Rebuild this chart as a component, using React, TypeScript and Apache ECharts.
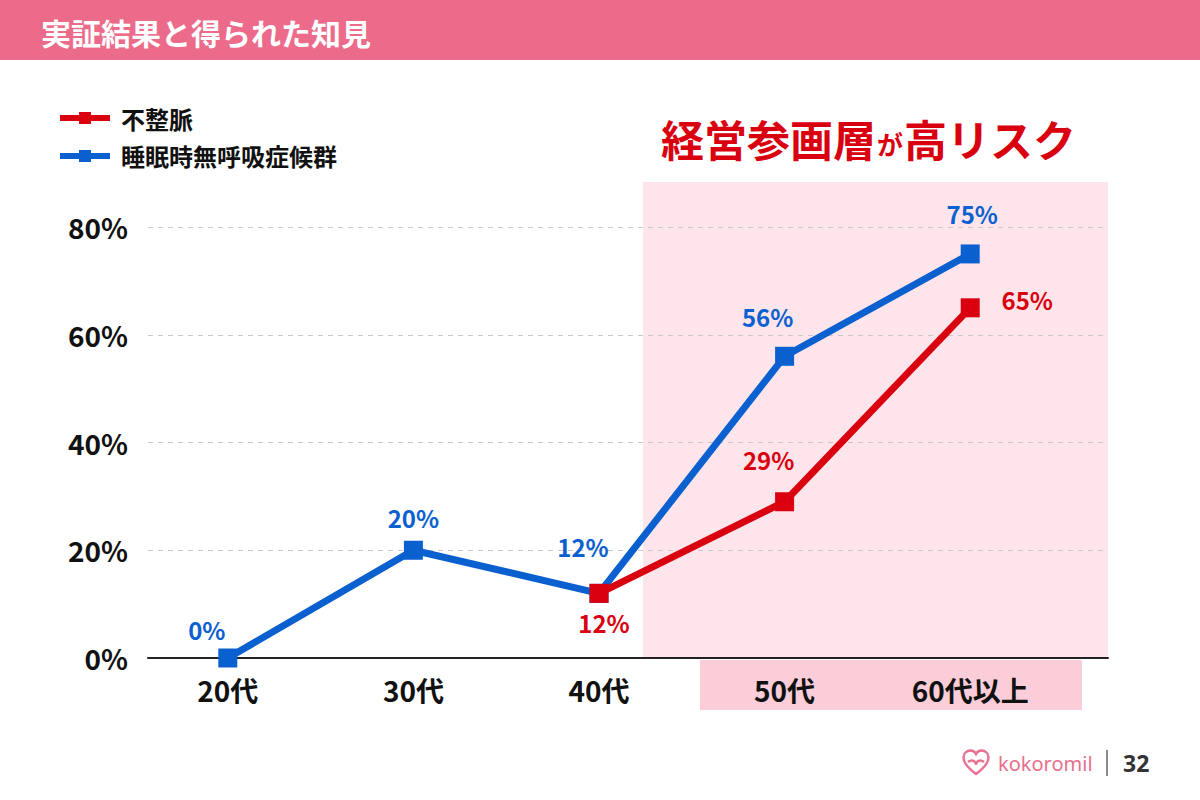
import React, { useEffect, useRef } from 'react';
import * as echarts from 'echarts';

// Age groups and prevalence (%) per condition
const categories = ['20代', '30代', '40代', '50代', '60代以上'];
const arrhythmia: (number | null)[] = [null, null, 12, 29, 65];
const apnea: number[] = [0, 20, 12, 56, 75];
const seriesNames = ['不整脈', '睡眠時無呼吸症候群'];
const yMin = 0;
const yMax = 80;
const yStep = 20;

const FONT = '"Noto Sans CJK JP", "Noto Sans", sans-serif';
const RED = '#d9000f';
const BLUE = '#0b60d0';
const PINK = '#ed6b8a';

// Label placement around each marker (dx, dy from the marker centre)
const apneaLabelOffsets: number[][] = [[-21, -29], [0, -33], [-16, -47], [-17, -40], [2, -40]];
const arrhythmiaLabelOffsets: (number[] | null)[] = [null, null, [5, 29], [-16, -42], [57, -8]];

// Brand heart mark for the footer
const heartPath =
  'M14 25 C 6 19 1.5 14 1.5 8.5 C 1.5 4.5 4.5 1.5 8.5 1.5 C 11 1.5 13 3 14 5 C 15 3 17 1.5 19.5 1.5 C 23.5 1.5 26.5 4.5 26.5 8.5 C 26.5 14 22 19 14 25 Z M6 13 C 9 10.5 13 11 14 15.5 M22 13 C 19 10.5 15 11 14 15.5';
echarts.graphic.registerShape('kokoroHeart', echarts.graphic.extendPath(heartPath, {}));

const labelBase = {
  show: true,
  position: 'inside',
  formatter: '{c}%',
  fontSize: 24,
  fontWeight: 'bold',
  fontFamily: FONT,
};

export default function App() {
  const ref = useRef<HTMLDivElement>(null);

  useEffect(() => {
    if (!ref.current) return;
    const chart = echarts.init(ref.current, undefined, { renderer: 'svg' });

    const apneaData = apnea.map((v, i) => ({
      value: v,
      label: { offset: apneaLabelOffsets[i] },
    }));
    const arrhythmiaData = arrhythmia.map((v, i) =>
      v == null ? '-' : { value: v, label: { offset: arrhythmiaLabelOffsets[i] } }
    );

    const option: any = {
      animation: false,
      backgroundColor: '#ffffff',
      textStyle: { fontFamily: FONT },
      title: {
        left: 656,
        top: 111,
        text: '{a|経営参画層}{b|が}{a|高リスク}',
        textStyle: {
          rich: {
            a: { fontSize: 43, fontWeight: 'bold', color: RED, fontFamily: FONT, verticalAlign: 'bottom' },
            b: { fontSize: 26, fontWeight: 'bold', color: RED, fontFamily: FONT, verticalAlign: 'bottom', padding: [0, 1, 2, 1] },
          },
        },
      },
      legend: {
        data: seriesNames,
        orient: 'vertical',
        left: 57,
        top: 106,
        padding: 0,
        itemWidth: 50,
        itemHeight: 15,
        itemGap: 14,
        lineStyle: { width: 6 },
        textStyle: { fontSize: 24, fontWeight: 'bold', color: '#111', fontFamily: FONT, padding: [0, 0, 0, 6] },
      },
      grid: [
        { left: 148, right: 92, top: 227, bottom: 142 },
        { left: 135, right: 137, top: 227, bottom: 142 },
      ],
      xAxis: [
        {
          type: 'category',
          gridIndex: 0,
          data: categories,
          axisLabel: { show: false },
          axisTick: { show: false },
          axisLine: { lineStyle: { color: '#222', width: 2 } },
        },
        {
          type: 'category',
          gridIndex: 1,
          data: categories,
          axisLine: { show: false },
          axisTick: { show: false },
          axisLabel: { margin: 18, fontSize: 28, fontWeight: 'bold', color: '#111', fontFamily: FONT },
        },
      ],
      yAxis: [
        {
          type: 'value',
          gridIndex: 0,
          min: yMin,
          max: yMax,
          interval: yStep,
          axisLine: { show: false },
          axisTick: { show: false },
          axisLabel: { formatter: '{value}%', margin: 20, fontSize: 28, fontWeight: 'bold', color: '#111', fontFamily: FONT },
          splitLine: { lineStyle: { color: '#c8c8c8', type: [5, 5], width: 1.2 } },
        },
        {
          type: 'value',
          gridIndex: 1,
          min: yMin,
          max: yMax,
          interval: yStep,
          show: false,
          splitLine: { show: false },
        },
      ],
      series: [
        {
          name: seriesNames[0],
          type: 'line',
          xAxisIndex: 1,
          yAxisIndex: 1,
          z: 4,
          data: arrhythmiaData,
          symbol: 'rect',
          symbolSize: 19,
          lineStyle: { color: RED, width: 7 },
          itemStyle: { color: RED },
          label: { ...labelBase, color: RED },
        },
        {
          name: seriesNames[1],
          type: 'line',
          xAxisIndex: 1,
          yAxisIndex: 1,
          z: 3,
          data: apneaData,
          symbol: 'rect',
          symbolSize: 19,
          lineStyle: { color: BLUE, width: 7 },
          itemStyle: { color: BLUE },
          label: { ...labelBase, color: BLUE },
        },
      ],
      graphic: [
        // header band
        { type: 'rect', z: 10, shape: { x: 0, y: 0, width: 1200, height: 60 }, style: { fill: PINK } },
        {
          type: 'text',
          z: 11,
          x: 41,
          y: 32,
          style: {
            text: '実証結果と得られた知見',
            fill: '#ffffff',
            font: `bold 30px ${FONT}`,
            verticalAlign: 'middle',
          },
        },
        // highlighted age band
        { type: 'rect', z: -1, shape: { x: 643, y: 182, width: 465, height: 476 }, style: { fill: '#fde5eb' } },
        { type: 'rect', z: -1, shape: { x: 700, y: 660, width: 382, height: 50 }, style: { fill: '#fbcdd8' } },
        // footer
        {
          type: 'kokoroHeart',
          x: 962,
          y: 749,
          scaleX: 1,
          scaleY: 1,
          style: { fill: 'none', stroke: '#ea7290', lineWidth: 2.4 },
        },
        {
          type: 'text',
          x: 998,
          y: 763,
          style: {
            text: 'kokoromil',
            fill: '#e86f8c',
            font: `normal 20px "Noto Sans", ${FONT}`,
            verticalAlign: 'middle',
          },
        },
        { type: 'line', shape: { x1: 1107, y1: 750, x2: 1107, y2: 776 }, style: { stroke: '#666', lineWidth: 1.5 } },
        {
          type: 'text',
          x: 1123,
          y: 763,
          style: {
            text: '32',
            fill: '#333',
            font: `bold 23px "Noto Sans", ${FONT}`,
            verticalAlign: 'middle',
          },
        },
      ],
    };

    chart.setOption(option);
    return () => chart.dispose();
  }, []);

  return (
    <div
      ref={ref}
      style={{ position: 'fixed', left: 0, top: 0, width: 1200, height: 800 }}
    />
  );
}
